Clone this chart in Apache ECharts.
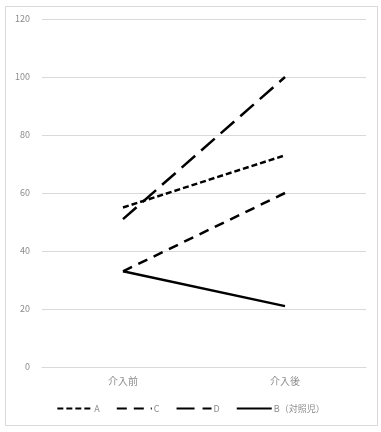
<!DOCTYPE html>
<html><head><meta charset="utf-8">
<script src="https://cdn.jsdelivr.net/npm/echarts@6/dist/echarts.min.js"></script>
<style>html,body{margin:0;padding:0;background:#fff}#c{width:381px;height:432px}</style>
</head><body><div id="c"></div>
<script>
const categories = ['介入前', '介入後'];
const seriesNames = ['A', 'C', 'D', 'B（対照児）'];
const valuesA = [55, 73];
const valuesC = [33, 60];
const valuesD = [51, 100];
const valuesB = [33, 21];
const yTicks = [0, 20, 40, 60, 80, 100, 120];

const font = '"Noto Sans CJK JP", "Noto Sans", sans-serif';
const dashes = [[6, 3], [10, 7], [18, 8], 'solid'];
const data = [valuesA, valuesC, valuesD, valuesB];

const chart = echarts.init(document.getElementById('c'), null, {renderer: 'canvas'});
chart.setOption({
  animation: false,
  backgroundColor: '#fff',
  graphic: [{type: 'rect', shape: {x: 5.5, y: 6.5, width: 372, height: 419}, style: {fill: 'none', stroke: '#d9d9d9', lineWidth: 1}, silent: true}],
  grid: {left: 42, right: 15, top: 19, bottom: 65},
  xAxis: {
    type: 'category', data: categories, boundaryGap: true,
    axisLine: {show: true, lineStyle: {color: '#d9d9d9'}}, axisTick: {show: false},
    axisLabel: {color: '#8c8c8c', fontSize: 10, fontFamily: font, margin: 9}
  },
  yAxis: {
    type: 'value', min: yTicks[0], max: yTicks[yTicks.length - 1], interval: 20,
    axisLine: {show: false}, axisTick: {show: false},
    splitLine: {lineStyle: {color: '#d9d9d9'}},
    axisLabel: {color: '#8c8c8c', fontSize: 9, fontFamily: font, margin: 12}
  },
  legend: {
    bottom: 14, left: 'center', itemWidth: 35, itemHeight: 10, itemGap: 16,
    itemStyle: {opacity: 0},
    textStyle: {color: '#8c8c8c', fontSize: 9, fontFamily: font, padding: [0, 0, 0, -3]},
    data: seriesNames
  },
  series: seriesNames.map((n, i) => ({
    name: n, type: 'line', data: data[i], showSymbol: false, symbol: 'none',
    lineStyle: {color: '#000', width: 2.5, type: dashes[i]},
    itemStyle: {color: '#000'}
  }))
});
</script></body></html>
